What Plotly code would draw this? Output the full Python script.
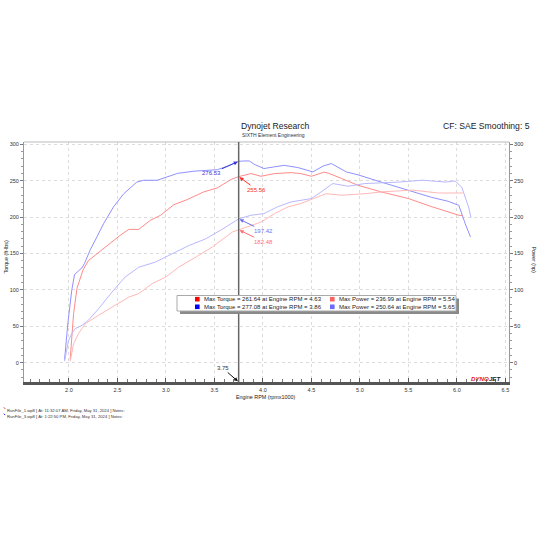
import plotly.graph_objects as go

# ---------------- data ----------------
bt_rpm = [1.955, 1.99, 2.03, 2.058, 2.10, 2.134, 2.16, 2.22, 2.29, 2.358, 2.46, 2.565, 2.70, 2.77, 2.91, 3.00, 3.12, 3.29, 3.53, 3.635, 3.75, 3.80, 3.86, 3.91, 4.01, 4.12, 4.22, 4.36, 4.515, 4.62, 4.705, 4.86, 4.98, 5.22, 5.50, 5.74, 5.91, 6.02, 6.085, 6.14]
bt_tq = [4, 55, 100, 121, 126, 130, 136, 155, 173, 191, 214, 232, 248, 250.5, 250.5, 255, 260, 263, 265, 270, 276.53, 277.0, 277.08, 272.5, 266.6, 269, 271, 268, 262, 270, 273.5, 262, 258, 248, 237, 227, 221.6, 216, 191, 172.6]

rt_rpm = [2.013, 2.03, 2.048, 2.083, 2.145, 2.20, 2.33, 2.45, 2.53, 2.617, 2.72, 2.84, 2.945, 3.083, 3.22, 3.39, 3.53, 3.67, 3.75, 3.877, 3.98, 4.12, 4.29, 4.39, 4.50, 4.63, 4.67, 4.81, 4.98, 5.22, 5.50, 5.745, 6.02, 6.06]
rt_tq = [4, 35, 67, 102, 127, 140, 154, 167, 175, 183, 183, 195.5, 202.4, 217, 224, 234.5, 240, 251.5, 255.56, 259.7, 256, 259.7, 261, 259.7, 256, 261.64, 260.5, 253, 243.6, 234.5, 225.4, 214, 202.4, 202]

bp_rpm = [1.955, 1.996, 2.03, 2.065, 2.134, 2.20, 2.306, 2.445, 2.58, 2.72, 2.89, 3.066, 3.24, 3.41, 3.566, 3.75, 3.877, 4.01, 4.15, 4.29, 4.50, 4.60, 4.72, 4.88, 5.05, 5.395, 5.65, 5.88, 5.98, 6.05, 6.12, 6.145]
bp_hp = [2, 30, 40, 46.7, 51, 58, 74, 97, 117.6, 131, 138, 150, 161, 170, 182, 197.42, 202.4, 204.7, 214, 220.7, 225.4, 234.5, 246, 242.3, 246, 248, 250.64, 248, 249.6, 241, 214, 199]

rp_rpm = [2.013, 2.03, 2.048, 2.10, 2.17, 2.306, 2.48, 2.617, 2.72, 2.86, 3.0, 3.13, 3.31, 3.48, 3.687, 3.75, 3.877, 3.98, 4.12, 4.26, 4.39, 4.515, 4.65, 4.81, 5.05, 5.22, 5.54, 5.81, 6.06]
rp_hp = [1.5, 13, 26, 40, 53.6, 65, 78.7, 90, 94.8, 108.6, 117.6, 131, 145, 159, 179.5, 182.48, 188.7, 193, 204.7, 214, 218.5, 225.4, 232, 230, 232, 234.5, 236.99, 233, 233]

cursor_rpm = 3.75
cursor_labels = [("276.53", 276.53), ("255.56", 255.56), ("197.42", 197.42), ("182.48", 182.48)]

legend_rows = [
    ["Max Torque = 261.64 at Engine RPM = 4.63", "Max Power = 236.99 at Engine RPM = 5.54"],
    ["Max Torque = 277.08 at Engine RPM = 3.86", "Max Power = 250.64 at Engine RPM = 5.65"],
]
legend_colors = [["#ff0000", "#ff6060"], ["#0000ff", "#6a6aff"]]

footer = [
    "RunFile_1.wp8 [ At: 11:32:07 AM, Friday, May 31, 2024 ] Notes:",
    "RunFile_3.wp8 [ At: 1:22:50 PM, Friday, May 31, 2024 ] Notes:",
]

# ---------------- layout geometry ----------------
W = H = 540
L, R, T, B = 24, 509, 142, 382


def px(x):
    return (x - L) / (R - L)


def py(y):
    return (B - y) / (B - T)


FONT = "Liberation Sans"
fig = go.Figure()

fig.add_trace(go.Scatter(x=bp_rpm, y=bp_hp, mode="lines", line=dict(color="#b8b8ff", width=1), yaxis="y2"))
fig.add_trace(go.Scatter(x=rp_rpm, y=rp_hp, mode="lines", line=dict(color="#ffb8b8", width=1), yaxis="y2"))
fig.add_trace(go.Scatter(x=bt_rpm, y=bt_tq, mode="lines", line=dict(color="#9090ff", width=1)))
fig.add_trace(go.Scatter(x=rt_rpm, y=rt_tq, mode="lines", line=dict(color="#ff8a8a", width=1)))

yr = [-26.7, 303.1]
tickfont = dict(family=FONT, size=5.5, color="#333333")

fig.update_layout(
    width=W, height=H, showlegend=False,
    margin=dict(l=L, r=W - R, t=T, b=H - B),
    paper_bgcolor="white", plot_bgcolor="white",
    xaxis=dict(range=[1.537, 6.537], tick0=2.0, dtick=0.5, tickformat=".1f",
               ticks="inside", ticklen=4, tickcolor="#555", tickwidth=1,
               minor=dict(dtick=0.1, ticks="inside", ticklen=3, tickcolor="#777", showgrid=False),
               showline=True, linecolor="#555555", linewidth=3,
               showgrid=True, gridcolor="#dcdcdc", griddash="dot", gridwidth=1,
               zeroline=False, tickfont=tickfont, automargin=False),
    yaxis=dict(range=yr, tick0=0, dtick=50, ticks="outside", ticklen=3, tickcolor="#777",
               minor=dict(dtick=10, ticks="outside", ticklen=2, tickcolor="#999", showgrid=False),
               showline=True, linecolor="#999999", linewidth=1,
               showgrid=True, gridcolor="#dcdcdc", griddash="dot", gridwidth=1,
               zeroline=False, tickfont=tickfont, automargin=False),
    yaxis2=dict(range=yr, tick0=0, dtick=50, overlaying="y", side="right",
                ticks="outside", ticklen=3, tickcolor="#777",
                minor=dict(dtick=10, ticks="outside", ticklen=2, tickcolor="#999"),
                showline=True, linecolor="#999999", linewidth=1,
                showgrid=False, zeroline=False, tickfont=tickfont, automargin=False),
)

shapes = []
# top frame
shapes.append(dict(type="line", xref="paper", yref="paper", x0=0, x1=1, y0=1, y1=1,
                   line=dict(color="#bbbbbb", width=1)))
# cursor line
shapes.append(dict(type="line", xref="x", yref="paper", x0=cursor_rpm, x1=cursor_rpm, y0=0, y1=1,
                   line=dict(color="#666666", width=1.5)))
# legend box with shadow
lx0, lx1, ly0, ly1 = 177, 456, 295.5, 311
shapes.append(dict(type="rect", xref="paper", yref="paper", x0=px(lx0 + 3), x1=px(lx1 + 3),
                   y0=py(ly1 + 3), y1=py(ly0 + 3), line=dict(width=0), fillcolor="#8a8a8a"))
shapes.append(dict(type="rect", xref="paper", yref="paper", x0=px(lx0), x1=px(lx1),
                   y0=py(ly1), y1=py(ly0), line=dict(color="#aaaaaa", width=1), fillcolor="white"))

annotations = []
sq_x = [197.3, 332.3]
txt_x = [202.0, 337.0]
row_y = [299.2, 306.8]
for r in range(2):
    for c in range(2):
        shapes.append(dict(type="rect", xref="paper", yref="paper",
                           x0=px(sq_x[c] - 2.3), x1=px(sq_x[c] + 2.3),
                           y0=py(row_y[r] + 2.3), y1=py(row_y[r] - 2.3),
                           line=dict(width=0), fillcolor=legend_colors[r][c]))
        annotations.append(dict(xref="paper", yref="paper", x=px(txt_x[c]), y=py(row_y[r]),
                                text=legend_rows[r][c], showarrow=False, xanchor="left", yanchor="middle",
                                font=dict(family=FONT, size=6.0, color="#222222")))

# cursor value labels with arrows
lab_specs = [
    ("#3636d8", -27, 12, "y"),
    ("#ff2a2a", 18, 13, "y"),
    ("#7070ee", 25, 12, "y2"),
    ("#ff6f6f", 25, 12, "y2"),
]
for (txt, val), (col, ax, ay, yref) in zip(cursor_labels, lab_specs):
    annotations.append(dict(x=cursor_rpm, y=val, xref="x", yref=yref, text=txt, showarrow=True,
                            ax=ax, ay=ay, arrowhead=2, arrowsize=0.8, arrowwidth=1, arrowcolor=col,
                            standoff=1, font=dict(family=FONT, size=6, color=col)))
annotations.append(dict(x=cursor_rpm, y=yr[0], xref="x", yref="y", text="3.75", showarrow=True,
                        ax=-16, ay=-14, arrowhead=2, arrowsize=0.8, arrowwidth=1, arrowcolor="#111",
                        standoff=1, font=dict(family=FONT, size=6, color="#333")))

# titles
annotations.append(dict(xref="paper", yref="paper", x=px(239), y=py(126.5), text="Dynojet Research",
                        showarrow=False, xanchor="left", yanchor="middle",
                        font=dict(family=FONT, size=8.6, color="#222")))
annotations.append(dict(xref="paper", yref="paper", x=px(240), y=py(134.5), text="SIXTH Element Engineering",
                        showarrow=False, xanchor="left", yanchor="middle",
                        font=dict(family=FONT, size=5, color="#333")))
annotations.append(dict(xref="paper", yref="paper", x=px(532), y=py(126.5), text="CF: SAE Smoothing: 5",
                        showarrow=False, xanchor="right", yanchor="middle",
                        font=dict(family=FONT, size=8.6, color="#222")))
# axis titles
annotations.append(dict(xref="paper", yref="paper", x=px(266), y=py(397), text="Engine RPM (rpmx1000)",
                        showarrow=False, xanchor="center", yanchor="middle",
                        font=dict(family=FONT, size=5.4, color="#222")))
annotations.append(dict(xref="paper", yref="paper", x=px(5.5), y=py(257), text="Torque (ft-lbs)",
                        showarrow=False, xanchor="center", yanchor="middle", textangle=-90,
                        font=dict(family=FONT, size=5.4, color="#222")))
annotations.append(dict(xref="paper", yref="paper", x=px(533.5), y=py(260), text="Power (hp)",
                        showarrow=False, xanchor="center", yanchor="middle", textangle=90,
                        font=dict(family=FONT, size=5.4, color="#222")))
# logo
annotations.append(dict(xref="paper", yref="paper", x=px(503), y=py(378),
                        text="<b><i><span style='color:#e8102a'>DYNO</span><span style='color:#222'>JET</span></i></b>",
                        showarrow=False, xanchor="right", yanchor="middle",
                        font=dict(family=FONT, size=6.2)))
# footer
for i, (line, col) in enumerate(zip(footer, ["#e02020", "#2020e0"])):
    yy = 410 + i * 6.3
    annotations.append(dict(xref="paper", yref="paper", x=px(4.5), y=py(yy), text=line,
                            showarrow=False, xanchor="left", yanchor="middle",
                            font=dict(family=FONT, size=4.2, color="#333")))
    shapes.append(dict(type="line", xref="paper", yref="paper", x0=px(3.8), x1=px(5.2),
                       y0=py(yy - 2.6), y1=py(yy - 1.2), line=dict(color=col, width=1)))

fig.update_layout(shapes=shapes, annotations=annotations)
fig.write_html("out.html")
